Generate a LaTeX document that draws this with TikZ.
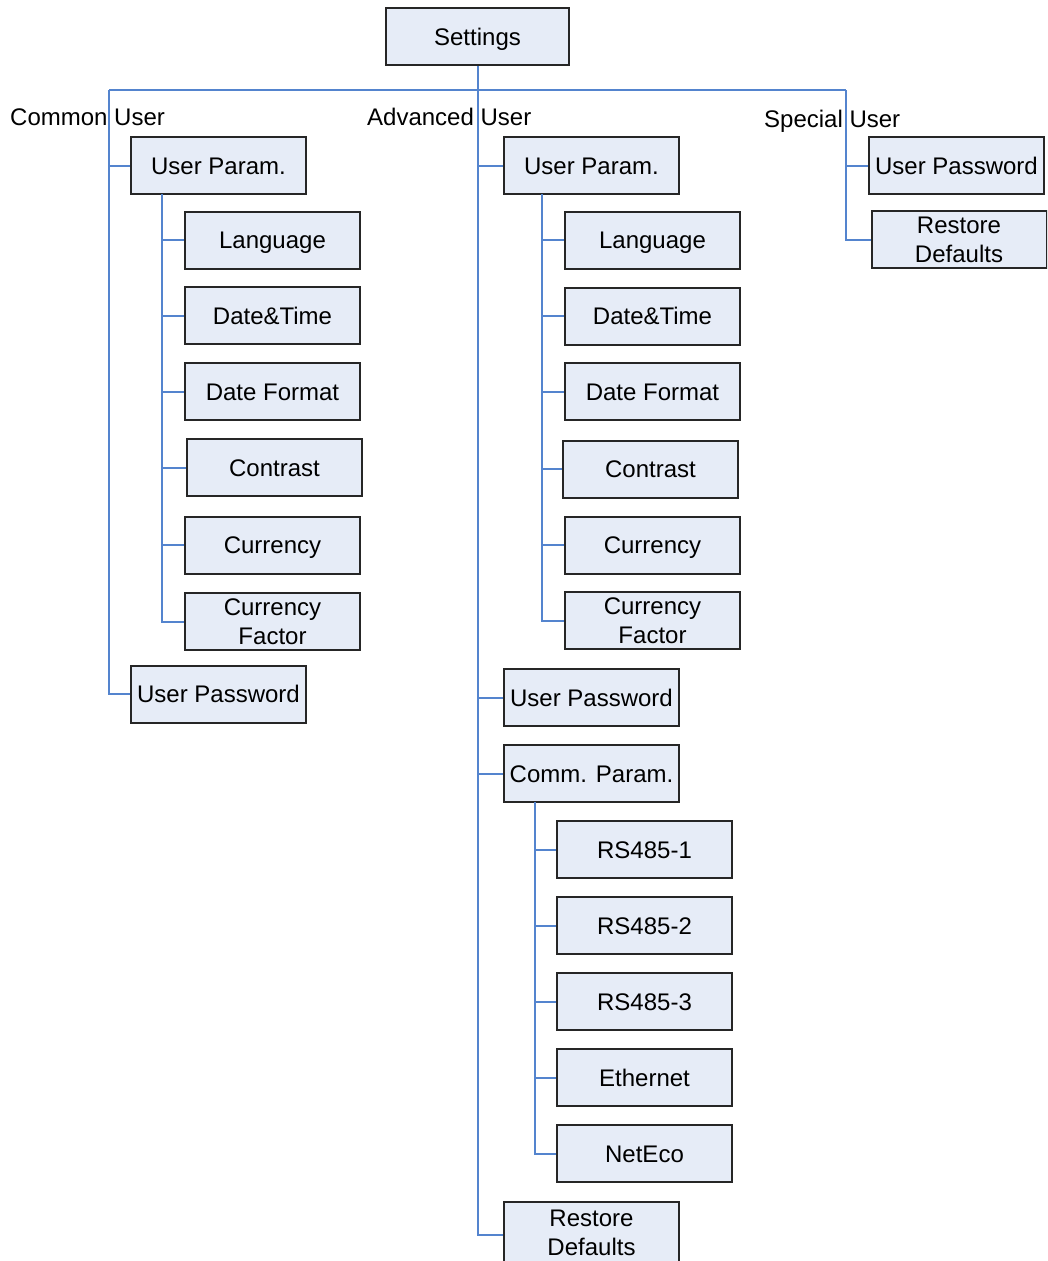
\documentclass[tikz,border=0pt]{standalone}
\usepackage{fontspec}
\setmainfont{Liberation Sans}
\definecolor{boxfill}{RGB}{230,236,247}
\definecolor{linkblue}{RGB}{84,132,206}
\begin{document}
\begin{tikzpicture}[x=1pt,y=-1pt,
  twobox/.style={draw=black!85, line width=2pt, fill=boxfill, minimum width=175pt, minimum height=57pt, inner sep=0pt, align=center, font=\fontsize{24}{29}\selectfont},
  box/.style={twobox, text height=17pt, text depth=0pt},
  tallbox/.style={twobox, minimum height=66pt},
  grouplabel/.style={anchor=base west, inner sep=0pt, font=\fontsize{24}{29}\selectfont},
  conn/.style={draw=linkblue, line width=2pt}]
\clip (0,0) rectangle (1047,1261);
\useasboundingbox (0,0) rectangle (1047,1261);

% root
\node[box, minimum width=183pt] (settings) at (477.5,36.5) {Settings};

% group labels
\node[grouplabel] (lcommon) at (10,125) {Common User};
\node[grouplabel] (ladv) at (367,125) {Advanced User};
\node[grouplabel] (lspec) at (764,127) {Special User};

% common user
\node[box] (cup) at (218.5,165.5) {User Param.};
\node[box] (clang) at (272.5,240) {Language};
\node[box] (cdt) at (272.5,315.5) {Date\&Time};
\node[box] (cdf) at (272.5,391.5) {Date Format};
\node[box] (ccon) at (274.5,467.5) {Contrast};
\node[box] (ccur) at (272.5,545) {Currency};
\node[twobox] (ccf) at (272.5,621.5) {Currency\\Factor};
\node[box] (cpw) at (218.5,694) {User Password};

% advanced user
\node[box] (aup) at (591.5,165.5) {User Param.};
\node[box] (alang) at (652.5,240) {Language};
\node[box] (adt) at (652.5,316) {Date\&Time};
\node[box] (adf) at (652.5,391.5) {Date Format};
\node[box] (acon) at (650.5,469) {Contrast};
\node[box] (acur) at (652.5,545) {Currency};
\node[twobox] (acf) at (652.5,620.5) {Currency\\Factor};
\node[box] (apw) at (591.5,697.5) {User Password};
\node[box] (acp) at (591.5,773.5) {Comm. Param.};
\node[box] (rs1) at (644.5,849.5) {RS485-1};
\node[box] (rs2) at (644.5,925.5) {RS485-2};
\node[box] (rs3) at (644.5,1001.5) {RS485-3};
\node[box] (eth) at (644.5,1077.5) {Ethernet};
\node[box] (neteco) at (644.5,1153.5) {NetEco};
\node[tallbox] (ard) at (591.5,1235) {};
\node[font=\fontsize{24}{29}\selectfont, align=center, inner sep=0pt] (ardtext) at (591.5,1233) {Restore\\Defaults};

% special user
\node[box] (spw) at (956.5,165.5) {User Password};
\node[twobox] (srd) at (959,239.5) {Restore\\Defaults};

% connector anchors
\coordinate (cl) at (109,90);
\coordinate (sl) at (846,90);
\coordinate (cv) at (162,194);
\coordinate (av) at (542,194);
\coordinate (pv) at (535,802);

% trunk
\draw[conn] (cl) -- (sl);
\draw[conn] (settings.south) -- (settings.south |- ard.west) -- (ard.west);

% common
\draw[conn] (cl) |- (cpw.west);
\draw[conn] (cl |- cup.west) -- (cup.west);
\draw[conn] (cv) |- (ccf.west);
\foreach \n in {clang,cdt,cdf,ccon,ccur}
  \draw[conn] (cv |- \n.west) -- (\n.west);

% advanced
\foreach \n in {aup,apw,acp}
  \draw[conn] (settings.south |- \n.west) -- (\n.west);
\draw[conn] (av) |- (acf.west);
\foreach \n in {alang,adt,adf,acon,acur}
  \draw[conn] (av |- \n.west) -- (\n.west);
\draw[conn] (pv) |- (neteco.west);
\foreach \n in {rs1,rs2,rs3,eth}
  \draw[conn] (pv |- \n.west) -- (\n.west);

% special
\draw[conn] (sl) |- (srd.west);
\draw[conn] (sl |- spw.west) -- (spw.west);
\end{tikzpicture}
\end{document}
